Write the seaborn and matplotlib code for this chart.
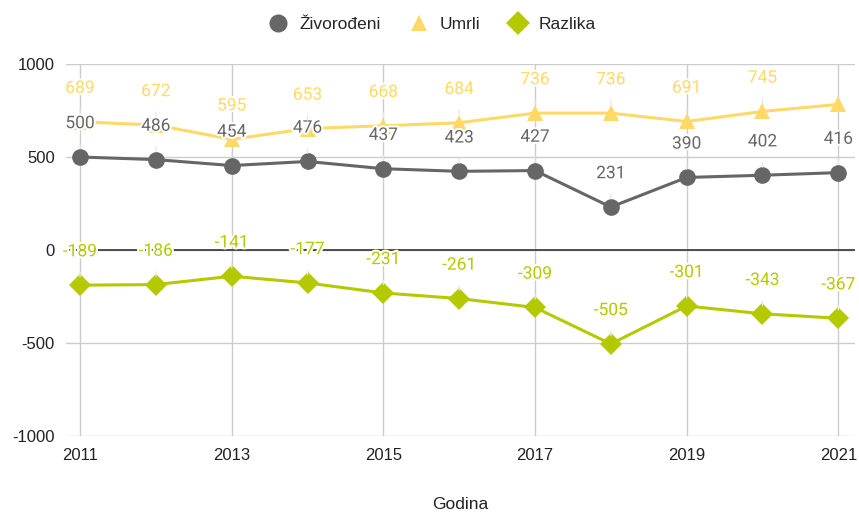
import matplotlib.pyplot as plt
import matplotlib.patheffects as pe
from matplotlib.lines import Line2D
import pandas as pd
import seaborn as sns

sns.set_theme(style='white')
plt.rcParams['font.family'] = ['Liberation Sans', 'DejaVu Sans']
plt.rcParams['axes.unicode_minus'] = False

godine = list(range(2011, 2022))
zivorodeni = [500, 486, 454, 476, 437, 423, 427, 231, 390, 402, 416]
umrli = [689, 672, 595, 653, 668, 684, 736, 736, 691, 745, 783]
razlika = [-189, -186, -141, -177, -231, -261, -309, -505, -301, -343, -367]
serije = ['Živorođeni', 'Umrli', 'Razlika']
boje = {'Živorođeni': '#666666', 'Umrli': '#ffd966', 'Razlika': '#b5c900'}
markeri = {'Živorođeni': 'o', 'Umrli': '^', 'Razlika': 'D'}
velicine = {'Živorođeni': 12, 'Umrli': 11, 'Razlika': 11}


def main():
    df = pd.concat([
        pd.DataFrame({'Godina': godine, 'Vrijednost': v, 'Serija': s})
        for s, v in zip(serije, [zivorodeni, umrli, razlika])
    ])

    fig = plt.figure(figsize=(8.59, 5.13), dpi=100)
    ax = fig.add_axes([66 / 859, 77 / 513, 789 / 859, 372 / 513])

    for s in serije:
        sub = df[df['Serija'] == s]
        sns.lineplot(data=sub, x='Godina', y='Vrijednost', color=boje[s],
                     marker=markeri[s], markersize=velicine[s],
                     markeredgewidth=0, linewidth=2.2, ax=ax, legend=False,
                     zorder=3)

    # data labels with leader lines
    for s in serije:
        sub = df[df['Serija'] == s]
        for x, y in zip(sub['Godina'], sub['Vrijednost']):
            if s == 'Umrli' and x == 2021:
                continue
            ax.annotate(str(y), xy=(x, y), xytext=(0, 24),
                        textcoords='offset points', ha='center', va='center',
                        color=boje[s], fontsize=12.5, family='Roboto',
                        zorder=5,
                        path_effects=[pe.withStroke(linewidth=3, foreground='white')],
                        arrowprops=dict(arrowstyle='-', color='#e8e8e8', lw=1,
                                        shrinkA=7, shrinkB=6))

    ax.set_xlim(2010.815, 2021.22)
    ax.set_ylim(-1000, 1000)
    ax.set_xticks(range(2011, 2022, 2))
    ax.set_yticks([-1000, -500, 0, 500, 1000])
    ax.grid(which='major', axis='both', color='#cccccc', linewidth=1)
    ax.axhline(0, color='#333333', linewidth=1.2, zorder=2)
    for sp in ax.spines.values():
        sp.set_visible(False)
    ax.tick_params(axis='both', labelsize=12, colors='#222222', length=0)
    ax.tick_params(axis='y', pad=8)
    ax.tick_params(axis='x', pad=9)
    ax.set_ylabel('')
    ax.set_xlabel('Godina', fontsize=12.5, color='#222222', labelpad=24)

    handles = [Line2D([], [], linestyle='none', marker=markeri[s],
                      markersize=velicine[s] + 1, markeredgewidth=0,
                      color=boje[s]) for s in serije]
    fig.legend(handles, serije, loc='center', bbox_to_anchor=(0.503, 0.953),
               ncol=3, frameon=False, fontsize=12.5, handletextpad=0.6,
               columnspacing=1.6, handlelength=1.2)

    fig.savefig('out.png', dpi=100)


if __name__ == '__main__':
    main()
